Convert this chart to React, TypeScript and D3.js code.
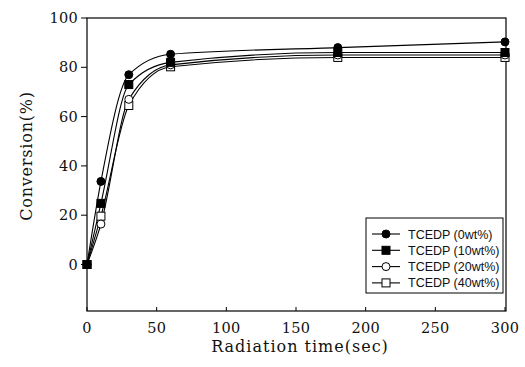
import React from "react";
import * as d3 from "d3";

const times = [0, 10, 30, 60, 180, 300];
const seriesNames = ["TCEDP (0wt%)", "TCEDP (10wt%)", "TCEDP (20wt%)", "TCEDP (40wt%)"];
const conv0 = [0, 33.7, 77, 85.3, 88, 90.3];
const conv10 = [0, 24.8, 73, 82, 86, 86];
const conv20 = [0, 16.4, 67, 81, 85, 85];
const conv40 = [0, 19.6, 64.5, 80.2, 84, 84];
const markers = ["circleFilled", "squareFilled", "circleOpen", "squareOpen"];
const xTicks = [0, 50, 100, 150, 200, 250, 300];
const yTicks = [0, 20, 40, 60, 80, 100];

const W = 525, H = 367;
const L = 87, R = 505, T = 18, B = 311;

export default function App() {
  const x = d3.scaleLinear().domain([0, 300]).range([L, R]);
  const y = d3.scaleLinear().domain([0, 100]).range([264.5, T]);
  const all = [conv0, conv10, conv20, conv40];
  const line = d3
    .line<[number, number]>()
    .x((d) => x(d[0]))
    .y((d) => y(d[1]))
    .curve(d3.curveMonotoneX);

  const marker = (kind: string, cx: number, cy: number, key: string) => {
    if (kind.startsWith("circle")) {
      return (
        <circle key={key} cx={cx} cy={cy} r={4} fill={kind === "circleFilled" ? "#000" : "#fff"} stroke="#000" strokeWidth={1} />
      );
    }
    return (
      <rect key={key} x={cx - 4} y={cy - 4} width={8} height={8} fill={kind === "squareFilled" ? "#000" : "#fff"} stroke="#000" strokeWidth={1} />
    );
  };

  const serif = "'DejaVu Serif', 'Liberation Serif', serif";
  const sans = "'Liberation Sans', Arial, sans-serif";
  const legX = 366, legY = 218, legW = 137, legH = 75;

  return (
    <svg width={W} height={H} style={{ position: "absolute", left: 0, top: 0, background: "#fff" }}>
      <rect x={0} y={0} width={W} height={H} fill="#fff" />
      {/* frame */}
      <rect x={L} y={T} width={R - L + 1} height={B - T} fill="none" stroke="#000" strokeWidth={1.2} />
      {/* x ticks */}
      {xTicks.map((t) => (
        <g key={"xt" + t}>
          <line x1={x(t)} x2={x(t)} y1={B} y2={B - 4} stroke="#000" />
          <text x={x(t)} y={333} textAnchor="middle" fontFamily={serif} fontSize={14.5} letterSpacing={0.3} fill="#111">
            {t}
          </text>
        </g>
      ))}
      {/* y ticks */}
      {yTicks.map((t) => (
        <g key={"yt" + t}>
          <line x1={L - 6} x2={L} y1={y(t)} y2={y(t)} stroke="#000" />
          <text x={78} y={y(t) + 5} textAnchor="end" fontFamily={serif} fontSize={14.5} letterSpacing={0.3} fill="#111">
            {t}
          </text>
        </g>
      ))}
      <text x={300} y={352} textAnchor="middle" fontFamily={serif} fontSize={16} letterSpacing={1} fill="#111">
        Radiation time(sec)
      </text>
      <text
        transform={`translate(32,${156}) rotate(-90)`}
        textAnchor="middle"
        fontFamily={serif}
        fontSize={16}
        letterSpacing={0.8}
        fill="#111"
      >
        Conversion(%)
      </text>
      {/* lines */}
      {all.map((s, i) => (
        <path
          key={"l" + i}
          d={line(times.map((t, j) => [t, s[j]] as [number, number])) || ""}
          fill="none"
          stroke="#000"
          strokeWidth={1.1}
        />
      ))}
      {/* markers */}
      {[3, 2, 1, 0].map((i) =>
        times.map((t, j) => marker(markers[i], x(t), y(all[i][j]), `m${i}-${j}`))
      )}
      {/* legend */}
      <rect x={legX} y={legY} width={legW} height={legH} fill="#fff" stroke="#000" strokeWidth={1} />
      {seriesNames.map((n, i) => {
        const ly = 234 + i * 16.3;
        return (
          <g key={"lg" + i}>
            <line x1={372} x2={400} y1={ly} y2={ly} stroke="#000" strokeWidth={1.1} />
            {marker(markers[i], 386, ly, "lm" + i)}
            <text x={408} y={ly + 4.5} fontFamily={sans} fontSize={12.5} fill="#111">
              {n}
            </text>
          </g>
        );
      })}
    </svg>
  );
}
